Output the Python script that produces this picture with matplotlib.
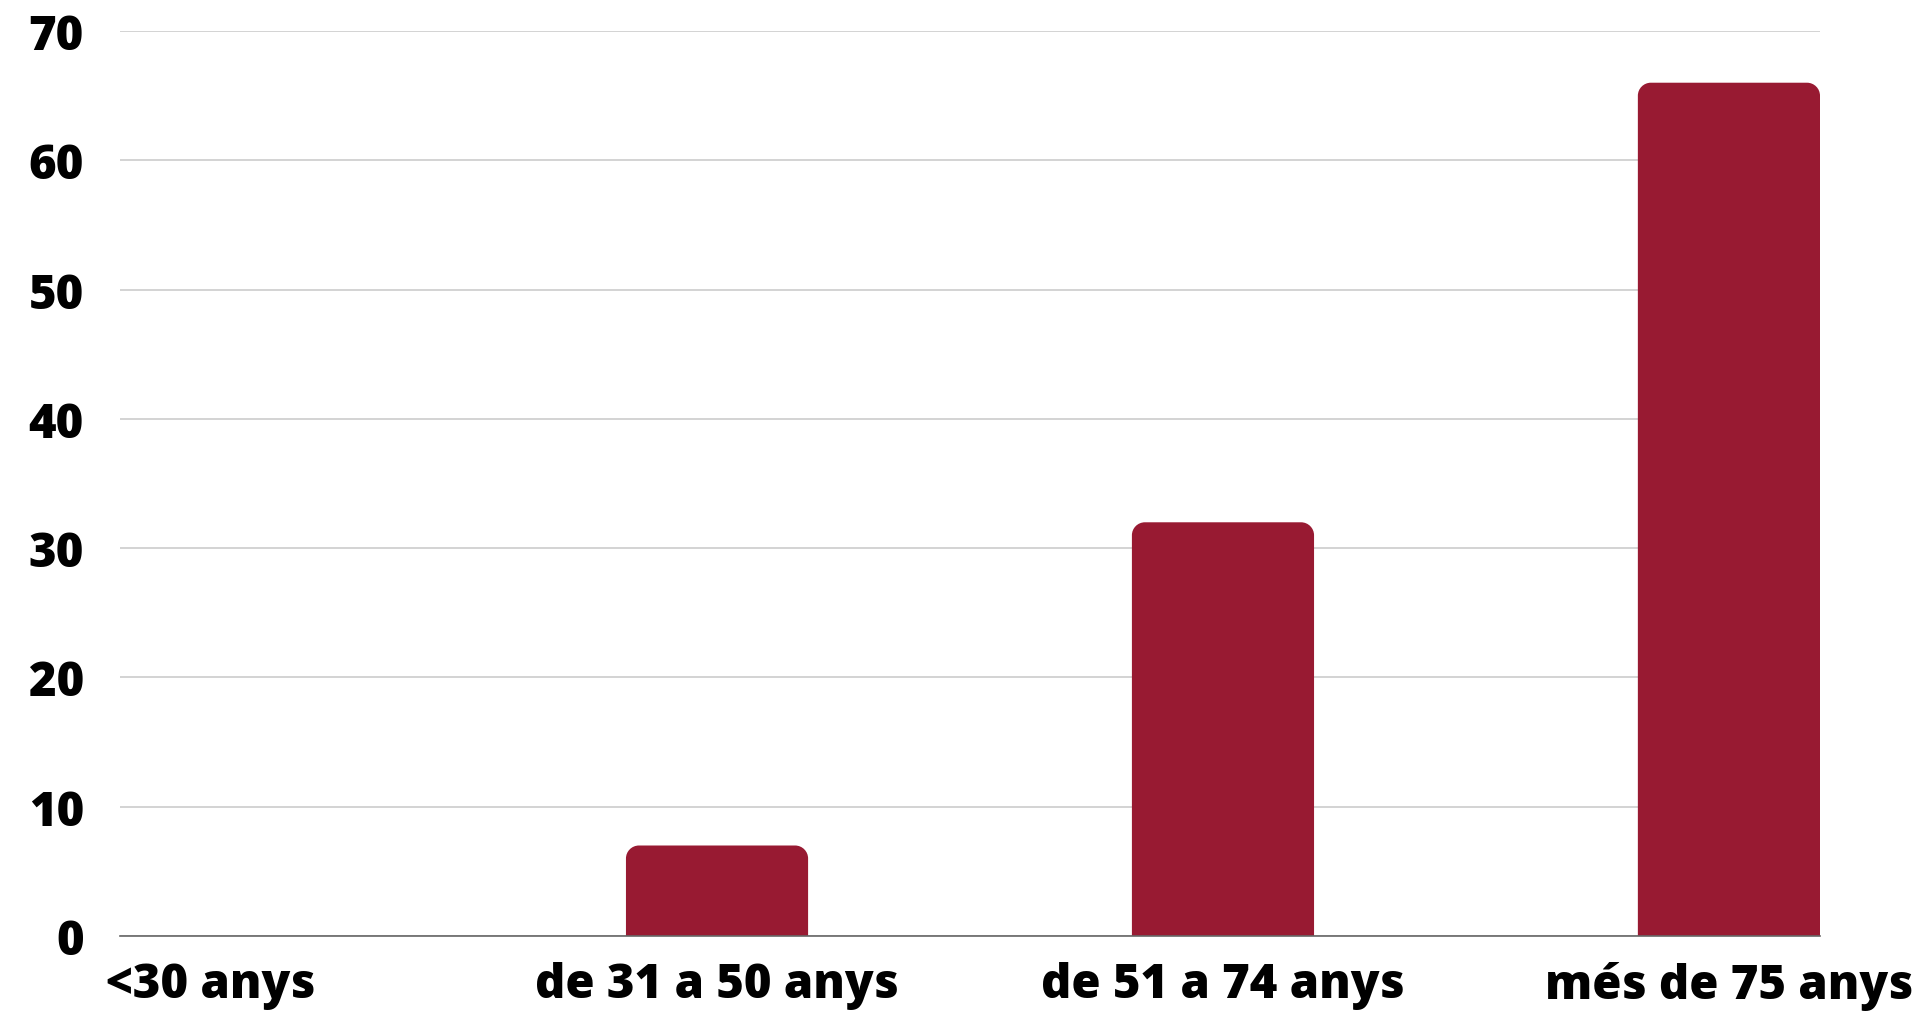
import matplotlib
matplotlib.use("Agg")
import matplotlib.pyplot as plt
from matplotlib.path import Path
from matplotlib.patches import PathPatch
import numpy as np

categories = ["<30 anys", "de 31 a 50 anys", "de 51 a 74 anys", "més de 75 anys"]
values = [0, 7, 32, 66]
yticks = [0, 10, 20, 30, 40, 50, 60, 70]

BAR_COLOR = "#981a32"
W, H = 1926, 1012
DPI = 100

plt.rcParams['font.family'] = ['Open Sans', 'DejaVu Sans']

fig = plt.figure(figsize=(W / DPI, H / DPI), dpi=DPI)
ax = fig.add_axes([120 / W, 75 / H, 1700 / W, 905 / H])

bw = 0.36
x = np.arange(len(categories))
bars = ax.bar(x, values, width=bw, color=BAR_COLOR, zorder=3)
ax.set_xlim(-bw / 2, len(categories) - 1 + bw / 2)
ax.set_ylim(0, 70)

# Replace rectangles by shapes with rounded top corners
fig.canvas.draw()
r_px = 13
inv = ax.transData.inverted()
p0 = inv.transform((0, 0))
p1 = inv.transform((r_px, r_px))
rx, ry = p1[0] - p0[0], p1[1] - p0[1]
for b in bars:
    x0, w, h = b.get_x(), b.get_width(), b.get_height()
    b.set_visible(False)
    if h <= 0:
        continue
    x1 = x0 + w
    k = 0.5523
    verts = [
        (x0, 0), (x0, h - ry),
        (x0, h - ry + k * ry), (x0 + rx - k * rx, h), (x0 + rx, h),
        (x1 - rx, h),
        (x1 - rx + k * rx, h), (x1, h - ry + k * ry), (x1, h - ry),
        (x1, 0), (x0, 0),
    ]
    codes = [Path.MOVETO, Path.LINETO,
             Path.CURVE4, Path.CURVE4, Path.CURVE4,
             Path.LINETO,
             Path.CURVE4, Path.CURVE4, Path.CURVE4,
             Path.LINETO, Path.CLOSEPOLY]
    ax.add_patch(PathPatch(Path(verts, codes), facecolor=BAR_COLOR,
                           edgecolor="none", zorder=3))

ax.set_yticks(yticks)
ax.set_yticklabels([str(t) for t in yticks])
ax.set_xticks(x)
ax.set_xticklabels(categories)
ax.grid(axis="y", color="#cccccc", linewidth=1.2, zorder=0)
ax.set_axisbelow(True)
for s in ["top", "right", "left"]:
    ax.spines[s].set_visible(False)
ax.spines["bottom"].set_color("#666666")
ax.spines["bottom"].set_linewidth(1.2)
ax.spines["bottom"].set_zorder(4)
ax.tick_params(axis="both", length=0)
ax.tick_params(axis="y", pad=26)
ax.tick_params(axis="x", pad=18)
for lab in ax.get_xticklabels() + ax.get_yticklabels():
    lab.set_fontsize(34)
    lab.set_fontweight("heavy")
    lab.set_color("black")

fig.savefig("out.png", dpi=DPI, facecolor="white")
